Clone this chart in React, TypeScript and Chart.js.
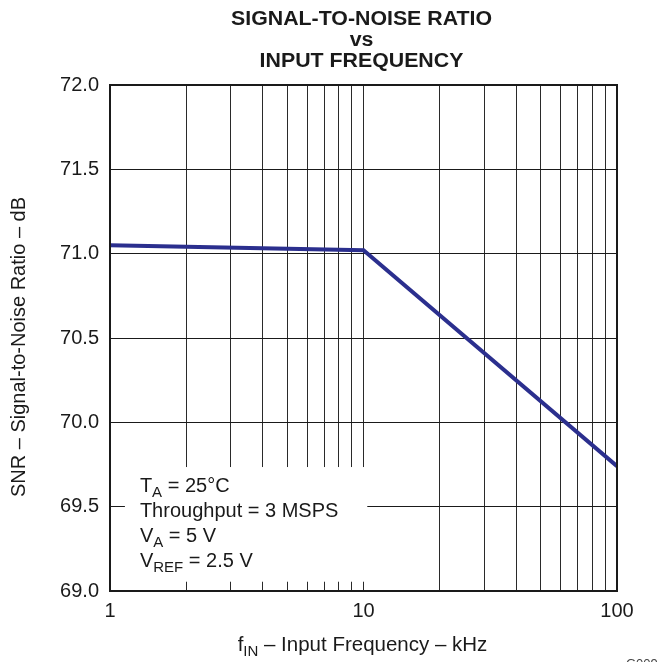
import React, { useEffect, useRef } from "react";
import { Chart, registerables } from "chart.js";

Chart.register(...registerables);

// ---- data ----
const frequencies = [1, 10, 100];
const snrValues = [71.05, 71.02, 69.74];
const xGridTicks = [1, 2, 3, 4, 5, 6, 7, 8, 9, 10, 20, 30, 40, 50, 60, 70, 80, 90, 100];
const xLabelTicks = [1, 10, 100];
const yTicks = [69.0, 69.5, 70.0, 70.5, 71.0, 71.5, 72.0];
const titleLines = ["SIGNAL-TO-NOISE RATIO", "vs", "INPUT FREQUENCY"];
const yTitle = "SNR \u2013 Signal-to-Noise Ratio \u2013 dB";
const xTitle: [string, boolean][] = [["f", false], ["IN", true], [" \u2013 Input Frequency \u2013 kHz", false]];
const conditionLines: [string, boolean][][] = [
  [["T", false], ["A", true], [" = 25\u00B0C", false]],
  [["Throughput = 3 MSPS", false]],
  [["V", false], ["A", true], [" = 5 V", false]],
  [["V", false], ["REF", true], [" = 2.5 V", false]],
];
const figureCode = "G009";

const FONT = "'Liberation Sans', Arial, Helvetica, sans-serif";
const TEXT = "#1a1a1a";

function drawRich(ctx: CanvasRenderingContext2D, parts: [string, boolean][], x: number, y: number, size: number, align: "left" | "center") {
  const subSize = Math.round(size * 0.75);
  let total = 0;
  const widths = parts.map(([t, sub]) => {
    ctx.font = `${sub ? subSize : size}px ${FONT}`;
    const w = ctx.measureText(t).width;
    total += w;
    return w;
  });
  let cx = align === "center" ? x - total / 2 : x;
  ctx.textAlign = "left";
  ctx.textBaseline = "alphabetic";
  parts.forEach(([t, sub], i) => {
    ctx.font = `${sub ? subSize : size}px ${FONT}`;
    ctx.fillText(t, cx, sub ? y + 5 : y);
    cx += widths[i];
  });
}

const decorPlugin = {
  id: "decor",
  beforeDatasetsDraw(chart: any) {
    const ctx = chart.ctx as CanvasRenderingContext2D;
    const xs = chart.scales.x;
    const ys = chart.scales.y;
    const left = xs.getPixelForValue(1.145);
    const right = xs.getPixelForValue(10.35);
    const top = ys.getPixelForValue(69.735);
    const bottom = ys.getPixelForValue(69.055);
    ctx.save();
    ctx.fillStyle = "#ffffff";
    ctx.fillRect(left, top, right - left, bottom - top);
    ctx.fillStyle = TEXT;
    conditionLines.forEach((line, i) => {
      drawRich(ctx, line, left + 15, top + 25 + i * 25, 20, "left");
    });
    ctx.restore();
  },
  afterDatasetsDraw(chart: any) {
    const ctx = chart.ctx as CanvasRenderingContext2D;
    const a = chart.chartArea;
    ctx.save();
    ctx.strokeStyle = "#1a1a1a";
    ctx.lineWidth = 2;
    ctx.strokeRect(a.left, a.top, a.right - a.left, a.bottom - a.top);
    ctx.restore();
  },
  afterDraw(chart: any) {
    const ctx = chart.ctx as CanvasRenderingContext2D;
    const a = chart.chartArea;
    const cx = (a.left + a.right) / 2 - 2;
    ctx.save();
    ctx.fillStyle = TEXT;
    ctx.textAlign = "center";
    ctx.textBaseline = "alphabetic";
    ctx.font = `bold 19.5px ${FONT}`;
    const sx = 261 / ctx.measureText(titleLines[0]).width;
    const baselines = [25, 46, 67];
    titleLines.forEach((t, i) => {
      ctx.save();
      ctx.translate(cx, baselines[i]);
      ctx.scale(sx, 1);
      ctx.fillText(t, 0, 0);
      ctx.restore();
    });
    // y title
    ctx.save();
    ctx.translate(25, (a.top + a.bottom) / 2 + 9);
    ctx.rotate(-Math.PI / 2);
    ctx.font = `20px ${FONT}`;
    ctx.textAlign = "center";
    ctx.fillText(yTitle, 0, 0);
    ctx.restore();
    // x title
    drawRich(ctx, xTitle, (a.left + a.right) / 2 - 1, 651, 20.5, "center");
    // figure code
    ctx.font = `13px ${FONT}`;
    ctx.textAlign = "left";
    ctx.fillStyle = "#444";
    ctx.fillText(figureCode, 626, 668);
    ctx.restore();
  },
};

export default function App() {
  const ref = useRef<HTMLCanvasElement | null>(null);
  useEffect(() => {
    if (!ref.current) return;
    const chart = new Chart(ref.current, {
      type: "line",
      data: {
        datasets: [
          {
            data: frequencies.map((f, i) => ({ x: f, y: snrValues[i] })),
            borderColor: "#2b2f8e",
            borderWidth: 4,
            pointRadius: 0,
            tension: 0,
            fill: false,
          },
        ],
      },
      options: {
        animation: false,
        responsive: false,
        maintainAspectRatio: false,
        layout: { padding: { left: 0, right: 43, top: 85, bottom: 0 } },
        plugins: { legend: { display: false }, tooltip: { enabled: false }, title: { display: false } },
        scales: {
          x: {
            type: "logarithmic",
            min: 1,
            max: 100,
            afterBuildTicks: (s: any) => {
              s.ticks = xGridTicks.map((v) => ({ value: v }));
            },
            afterFit: (s: any) => {
              s.height = 71;
            },
            ticks: {
              autoSkip: false,
              maxRotation: 0,
              minRotation: 0,
              padding: 8,
              color: TEXT,
              font: { family: FONT, size: 20 },
              callback: (v: any) => (xLabelTicks.includes(Number(v)) ? String(v) : ""),
            },
            grid: { color: "#2a2a2a", lineWidth: 1, drawTicks: false },
            border: { display: false },
          },
          y: {
            type: "linear",
            min: 69,
            max: 72,
            afterBuildTicks: (s: any) => {
              s.ticks = yTicks.map((v) => ({ value: v }));
            },
            afterFit: (s: any) => {
              s.width = 110;
            },
            ticks: {
              padding: 11,
              color: TEXT,
              font: { family: FONT, size: 20 },
              callback: (v: any) => Number(v).toFixed(1),
            },
            grid: { color: "#1a1a1a", lineWidth: 1, drawTicks: false },
            border: { display: false },
          },
        },
      },
      plugins: [decorPlugin],
    } as any);
    return () => chart.destroy();
  }, []);
  return (
    <div style={{ position: "fixed", left: 0, top: 0, width: 660, height: 662, background: "#fff" }}>
      <canvas ref={ref} width={660} height={662} style={{ width: 660, height: 662, display: "block" }} />
    </div>
  );
}
